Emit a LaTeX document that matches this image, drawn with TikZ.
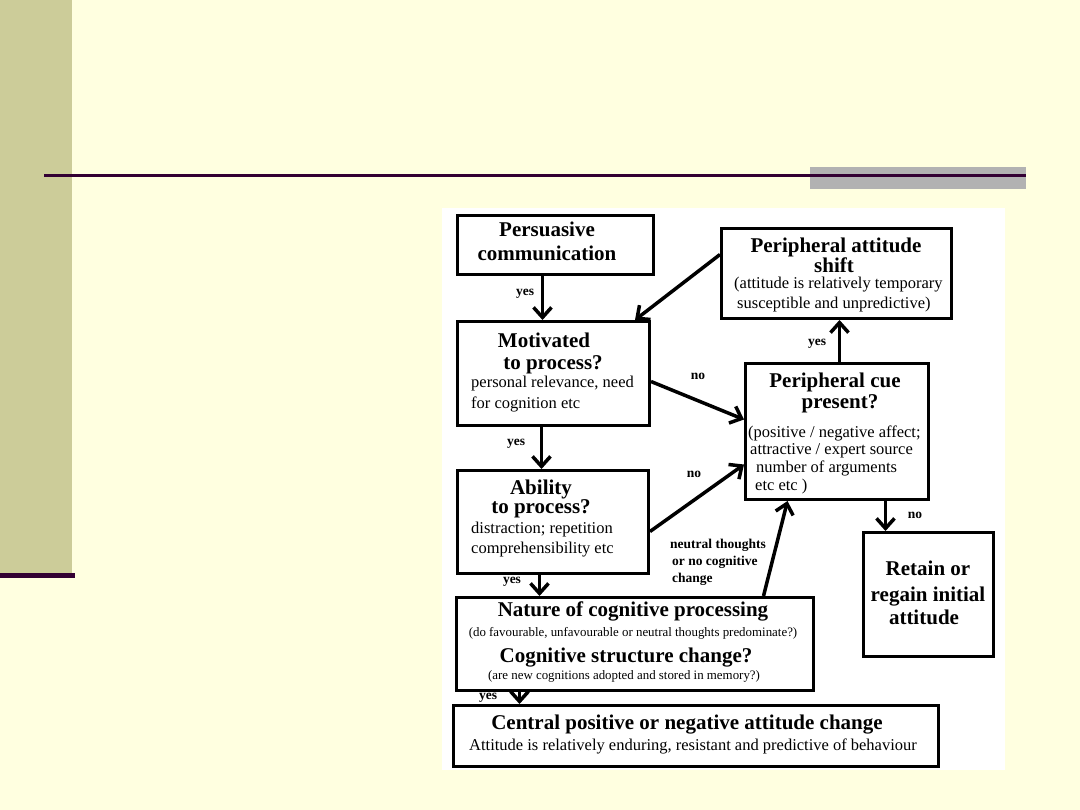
\documentclass[tikz,border=0pt]{standalone}
\usepackage{fontspec}
\setmainfont{Liberation Serif}
\usetikzlibrary{arrows.meta,calc}
\definecolor{bgc}{HTML}{FFFFE0}
\definecolor{barc}{HTML}{CCCC99}
\definecolor{darkp}{HTML}{330033}
\definecolor{grayc}{HTML}{B2B2B2}
\tikzset{
 box/.style={draw=black, line width=3pt, fill=white, inner sep=0pt, anchor=north west},
 ttl/.style={font=\fontsize{21}{24}\selectfont\bfseries, inner sep=0pt, text height=14pt, text depth=4pt, yshift=-2.5pt},
 dsc/.style={font=\fontsize{16.5}{20}\selectfont, inner sep=0pt, anchor=west, text height=11pt, text depth=3pt, yshift=-1pt},
 sml/.style={font=\fontsize{12.9}{15}\selectfont, inner sep=0pt, text height=9pt, text depth=3pt},
 lbl/.style={font=\fontsize{13.5}{14}\selectfont\bfseries, inner sep=0pt, text height=8pt, text depth=3pt},
 arr/.style={line width=3.5pt, -{Straight Barb[length=10pt,width=18pt]}},
}
\begin{document}
\begin{tikzpicture}[x=1pt,y=-1pt]
\useasboundingbox (0,0) rectangle (1080,810);
\fill[bgc] (0,0) rectangle (1080,810);
\fill[barc] (0,0) rectangle (72,575);
\fill[darkp] (0,573) rectangle (75,578);
\fill[grayc] (810,167) rectangle (1026,189);
\draw[darkp, line width=3pt] (44,176) -- (1026,176);
\fill[white] (442,208) rectangle (1005,770);

% boxes
\node[box, minimum width=196pt, minimum height=59pt] (pc) at (456,214) {};
\node[box, minimum width=230pt, minimum height=90pt] (pas) at (720,227) {};
\node[box, minimum width=192pt, minimum height=104pt] (mot) at (456,320) {};
\node[box, minimum width=183pt, minimum height=136pt] (cue) at (744,362) {};
\node[box, minimum width=191pt, minimum height=103pt] (abl) at (456,469) {};
\node[box, minimum width=130pt, minimum height=124pt] (ret) at (862,531) {};
\node[box, minimum width=357pt, minimum height=93pt] (nat) at (455,596) {};
\node[box, minimum width=485pt, minimum height=61pt] (cen) at (452,704) {};

% connectors
\draw[arr] ([xshift=-13pt]pc.south) -- ([xshift=-11pt]mot.north);
\draw[arr] ([yshift=19pt]pas.west) -- ([xshift=-16pt]mot.north east);
\draw[arr] ([yshift=-8pt]mot.east) -- ([yshift=12pt]cue.west);
\draw[arr] ([xshift=-12pt]mot.south) -- ([xshift=-11.5pt]abl.north);
\draw[arr] ([yshift=-9.5pt]abl.east) -- ([yshift=-33pt]cue.west);
\draw[arr] ([xshift=2.5pt]cue.north) -- ([xshift=3pt]pas.south);
\draw[arr] ([xshift=48.5pt]cue.south) -- ([xshift=-43pt]ret.north);
\draw[arr] ([xshift=-13.5pt]abl.south) -- ([xshift=-95.5pt]nat.north);
\draw[arr] ([xshift=128.5pt]nat.north) -- ([xshift=-49.5pt]cue.south);
\draw[arr] ([xshift=-115.5pt]nat.south) -- ([xshift=-176.5pt]cen.north);

% texts
\node[ttl] (t1) at (547,229) {Persuasive};
\node[ttl] (t2) at (547,253) {communication};
\node[ttl] (t3) at (836,245) {Peripheral attitude};
\node[ttl] (t4) at (834,265) {shift};
\node[dsc] (t5) at (734,284) {(attitude is relatively temporary};
\node[dsc] (t6) at (737,304) {susceptible and unpredictive)};
\node[ttl] (t7) at (544,340) {Motivated};
\node[ttl] (t8) at (553,362) {to process?};
\node[dsc] (t9) at (471,383) {personal relevance, need};
\node[dsc] (t10) at (471,404) {for cognition etc};
\node[ttl] (t11) at (835,380) {Peripheral cue};
\node[ttl] (t12) at (840,401) {present?};
\node[dsc] (t13) at (748,433) {(positive / negative affect;};
\node[dsc] (t14) at (750,450) {attractive / expert source};
\node[dsc] (t15) at (756,467) {number of arguments};
\node[dsc] (t16) at (755,485) {etc etc )};
\node[ttl] (t17) at (541,487) {Ability};
\node[ttl] (t18) at (541,506) {to process?};
\node[dsc] (t19) at (471,528) {distraction; repetition};
\node[dsc] (t20) at (471,548) {comprehensibility etc};
\node[ttl] (t21) at (928,568) {Retain or};
\node[ttl] (t22) at (928,594) {regain initial};
\node[ttl] (t23) at (924,617) {attitude};
\node[ttl] (t24) at (633,609) {Nature of cognitive processing};
\node[sml] (t25) at (633,633) {(do favourable, unfavourable or neutral thoughts predominate?)};
\node[ttl] (t26) at (626,655) {Cognitive structure change?};
\node[sml] (t27) at (624,676) {(are new cognitions adopted and stored in memory?)};
\node[ttl] (t28) at (687,722) {Central positive or negative attitude change};
\node[dsc, anchor=center] (t29) at (693,745) {Attitude is relatively enduring, resistant and predictive of behaviour};

% labels
\node[lbl] (l1) at (525,293) {yes};
\node[lbl] (l2) at (817,343) {yes};
\node[lbl] (l3) at (698,377) {no};
\node[lbl] (l4) at (516,443) {yes};
\node[lbl] (l5) at (694,475) {no};
\node[lbl] (l6) at (915,516) {no};
\node[lbl] (l7) at (512,581) {yes};
\node[lbl] (l8) at (488,697) {yes};
\node[lbl, anchor=west] (l9) at (670,546) {neutral thoughts};
\node[lbl, anchor=west] (l10) at (672,563) {or no cognitive};
\node[lbl, anchor=west] (l11) at (672,580) {change};
\end{tikzpicture}
\end{document}
